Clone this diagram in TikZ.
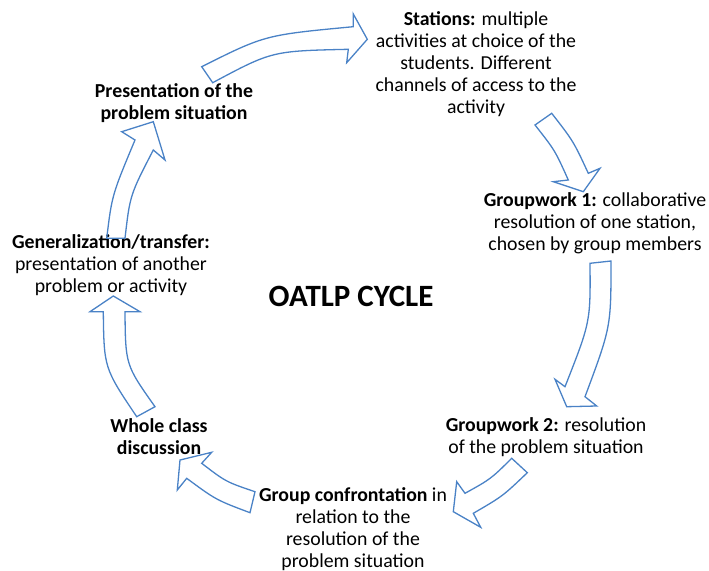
\documentclass[tikz,border=0pt]{standalone}
\usepackage{fontspec}
\setmainfont{Carlito}
\usepackage{tikz}
\definecolor{arrowblue}{RGB}{74,130,198}
\tikzset{
  blockarrow/.style={draw=arrowblue, line width=1.3pt, line join=miter},
  steptext/.style={align=center, inner sep=0pt, font=\fontsize{19.8}{22}\selectfont}
}
\begin{document}
\begin{tikzpicture}[x=1pt, y=-1pt]
\useasboundingbox (0, 0) rectangle (709, 570);
\node[steptext] (stations) at (476, 64) {\textbf{Stations:} multiple\\activities at choice of the\\students. Different\\channels of access to the\\activity};
\node[steptext] (present) at (174, 103) {\textbf{Presentation of the}\\\textbf{problem situation}};
\node[steptext] (group1) at (595, 223.5) {\textbf{Groupwork 1:} collaborative\\resolution of one station,\\chosen by group members};
\node[font=\fontsize{31}{34}\selectfont\bfseries] (cycle) at (351, 296) {OATLP CYCLE};
\node[steptext] (general) at (111, 265.5) {\textbf{Generalization/transfer:}\\presentation of another\\problem or activity};
\node[steptext] (whole) at (159, 437) {\textbf{Whole class}\\\textbf{discussion}};
\node[steptext] (group2) at (546, 437) {\textbf{Groupwork 2:} resolution\\of the problem situation};
\node[steptext] (confront) at (353, 529.5) {\textbf{Group confrontation} in\\relation to the\\resolution of the\\problem situation};
\draw[blockarrow] (201.7, 66.7) .. controls (265, 35) .. (353.3, 26.7) -- (353.3, 14) -- (367.3, 39.3) -- (346.7, 62.7) -- (348.3, 49.3) .. controls (272, 51) .. (212.7, 82.7) -- cycle;
\draw[blockarrow] (535, 125) .. controls (555, 150.4) .. (568.3, 180) -- (553.3, 181.7) -- (583.3, 191.7) -- (600, 168.3) -- (588.3, 173.3) .. controls (573.4, 141.2) .. (551.7, 113.3) -- cycle;
\draw[blockarrow] (590, 263.3) .. controls (590.5, 322) .. (565, 386.7) -- (555, 379.3) -- (566.7, 406.7) -- (596.7, 406) -- (585, 396.7) .. controls (611, 327) .. (611, 261) -- cycle;
\draw[blockarrow] (511.7, 458.3) .. controls (490.8, 479) .. (465, 493.3) -- (456.7, 481.7) -- (453.3, 511.7) -- (480.7, 527.3) -- (473.3, 513.3) .. controls (502.7, 496.2) .. (527.3, 472.7) -- cycle;
\draw[blockarrow] (255, 491.7) .. controls (226, 481.9) .. (201.7, 463.3) -- (211.7, 452.3) -- (180, 460) -- (177.3, 490) -- (186.7, 478.3) .. controls (216, 499.9) .. (250, 512.7) -- cycle;
\draw[blockarrow] (136.7, 416.7) .. controls (104, 368) .. (103.3, 311.7) -- (90, 311.7) -- (113.3, 296) -- (140, 311.7) -- (125, 311.7) .. controls (125.5, 365) .. (155, 406.7) -- cycle;
\draw[blockarrow] (106.7, 238.3) .. controls (112, 195) .. (135, 140) -- (121.7, 131.7) -- (153.3, 121.7) -- (165, 160) -- (153.3, 150) .. controls (130, 195) .. (125, 238.3) -- cycle;
\end{tikzpicture}
\end{document}
